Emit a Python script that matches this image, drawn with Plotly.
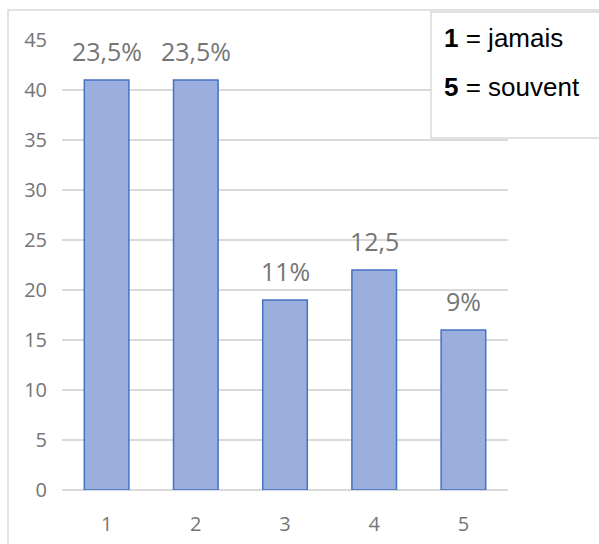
import plotly.graph_objects as go

categories = [1, 2, 3, 4, 5]
counts = [41, 41, 19, 22, 16]
bar_labels = ["23,5%", "23,5%", "11%", "12,5", "9%"]
y_ticks = [0, 5, 10, 15, 20, 25, 30, 35, 40, 45]
legend_lines = ["<b>1</b> = jamais", "<b>5</b> = souvent"]

W, H = 599, 544
L, R, T, B = 62, 91, 40, 54

fig = go.Figure()
fig.add_trace(go.Bar(
    x=categories, y=counts, width=0.5,
    marker=dict(color="#9AAFDE", line=dict(color="#4472C4", width=1.5)),
    hoverinfo="skip",
))

annotations = []
for c, v, t in zip(categories, counts, bar_labels):
    annotations.append(dict(x=c, y=v, xref="x", yref="y", text=t, showarrow=False,
                            yanchor="bottom", yshift=10,
                            font=dict(family="Segoe UI, Open Sans, sans-serif", size=25, color="#757575")))

pw = W - L - R
ph = H - T - B
def px2x(p):
    return (p - L) / pw
def py2y(p):
    return (H - B - p) / ph

legend_y = [38, 87]
for txt, yy in zip(legend_lines, legend_y):
    annotations.append(dict(x=px2x(442), y=py2y(yy), xref="paper", yref="paper", text=txt,
                            showarrow=False, xanchor="left", yanchor="middle",
                            font=dict(family="Arial, Liberation Sans, sans-serif", size=26, color="#000000")))

shapes = [
    dict(type="rect", xref="paper", yref="paper", x0=px2x(8), x1=px2x(640), y0=py2y(600), y1=py2y(10),
         line=dict(color="#D9D9D9", width=1.5), fillcolor="rgba(0,0,0,0)", layer="below"),
    dict(type="rect", xref="paper", yref="paper", x0=px2x(431), x1=px2x(640), y0=py2y(138), y1=py2y(12),
         line=dict(color="#D9D9D9", width=1.5), fillcolor="#FFFFFF", layer="above"),
]

fig.update_layout(
    width=W, height=H,
    margin=dict(l=L, r=R, t=T, b=B, autoexpand=False),
    paper_bgcolor="#FFFFFF", plot_bgcolor="#FFFFFF",
    showlegend=False,
    annotations=annotations,
    shapes=shapes,
    xaxis=dict(range=[0.5, 5.5], tickvals=categories, ticktext=[str(c) for c in categories],
               showgrid=False, showline=False, zeroline=False,
               ticks="", ticklabelstandoff=20,
               tickfont=dict(family="Segoe UI, Open Sans, sans-serif", size=20, color="#757575")),
    yaxis=dict(range=[0, 45], tickvals=y_ticks, showgrid=True, gridcolor="#D9D9D9", gridwidth=1.5,
               zeroline=True, zerolinecolor="#D9D9D9", zerolinewidth=1.5, showline=False,
               ticks="", ticklabelstandoff=14,
               tickfont=dict(family="Segoe UI, Open Sans, sans-serif", size=20, color="#757575")),
)

fig.write_html("out.html", config={"displayModeBar": False},
               post_script="document.body.style.margin='0';document.body.style.overflow='hidden';")
